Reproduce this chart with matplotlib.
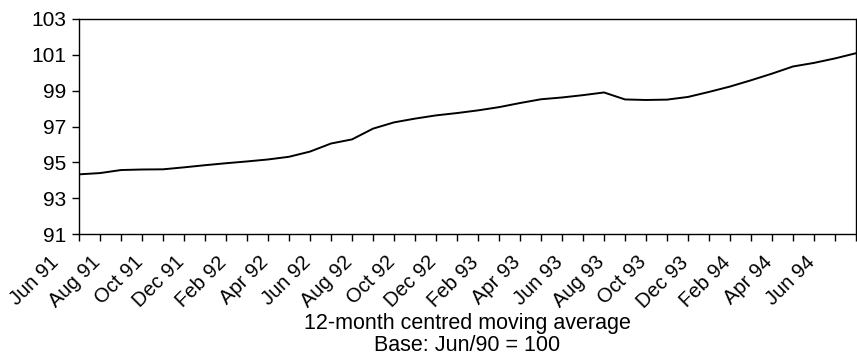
import numpy as np
import matplotlib
matplotlib.use("Agg")
import matplotlib.pyplot as plt
import matplotlib.transforms as mtransforms

plt.rcParams['font.family'] = ['Liberation Sans', 'DejaVu Sans']

# monthly index, Jun 91 .. Jul 94
months = ['Jun 91', 'Jul 91', 'Aug 91', 'Sep 91', 'Oct 91', 'Nov 91', 'Dec 91',
          'Jan 92', 'Feb 92', 'Mar 92', 'Apr 92', 'May 92', 'Jun 92', 'Jul 92',
          'Aug 92', 'Sep 92', 'Oct 92', 'Nov 92', 'Dec 92', 'Jan 93', 'Feb 93',
          'Mar 93', 'Apr 93', 'May 93', 'Jun 93', 'Jul 93', 'Aug 93', 'Sep 93',
          'Oct 93', 'Nov 93', 'Dec 93', 'Jan 94', 'Feb 94', 'Mar 94', 'Apr 94',
          'May 94', 'Jun 94', 'Jul 94']
values = [94.33, 94.40, 94.57, 94.60, 94.61, 94.72, 94.84, 94.95, 95.05, 95.16,
          95.31, 95.60, 96.05, 96.28, 96.88, 97.23, 97.44, 97.62, 97.75, 97.90,
          98.08, 98.31, 98.52, 98.62, 98.75, 98.90, 98.51, 98.48, 98.50, 98.65,
          98.93, 99.23, 99.58, 99.95, 100.35, 100.55, 100.80, 101.09]
yticks = [91, 93, 95, 97, 99, 101, 103]

x = np.arange(len(months))

fig = plt.figure(figsize=(8.57, 3.59), dpi=100)
ax = fig.add_axes([79 / 857, 1 - 234 / 359, 777 / 857, 215 / 359])

ax.plot(x, values, color='black', lw=1.4)

ax.set_xlim(0, len(months) - 1)
ax.set_ylim(91, 103)
ax.set_yticks(yticks)
ax.set_yticklabels([str(v) for v in yticks], fontsize=15)

ax.set_xticks(x)
ax.set_xticklabels([m if i % 2 == 0 else '' for i, m in enumerate(months)],
                   rotation=45, ha='right', va='top', rotation_mode='anchor',
                   fontsize=14.5)
ax.tick_params(axis='x', direction='out', length=5, width=1, pad=2)
ax.tick_params(axis='y', direction='out', length=5, width=1, pad=4)

# labels sit down-left of their tick, as in the original
offset = mtransforms.ScaledTranslation(-30 / 100, -9 / 100, fig.dpi_scale_trans)
for lab in ax.get_xticklabels():
    lab.set_transform(lab.get_transform() + offset)

for s in ax.spines.values():
    s.set_linewidth(1.0)
    s.set_color('black')

fig.text((79 + 856) / 2 / 857, 1 - 313 / 359,
         '12-month centred moving average\nBase: Jun/90 = 100',
         ha='center', va='top', fontsize=15.5, linespacing=1.05)

fig.savefig('out.png', dpi=100)
